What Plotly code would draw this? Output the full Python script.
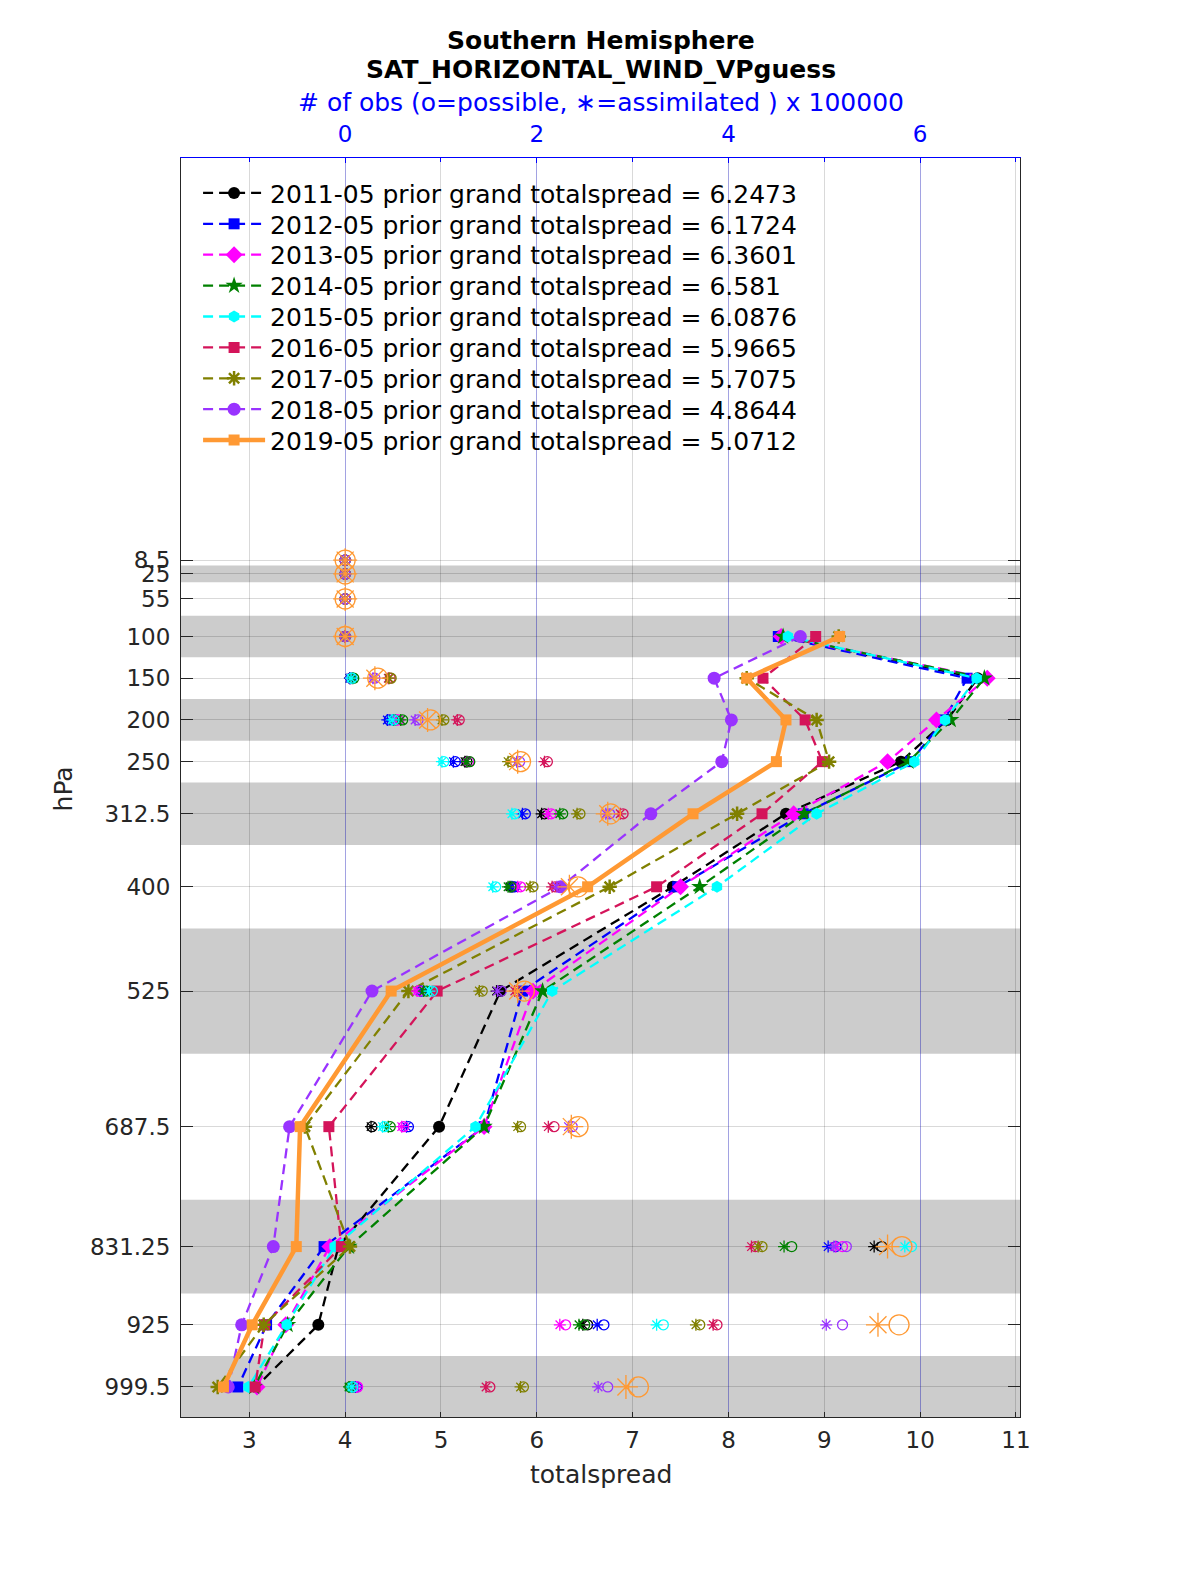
import plotly.graph_objects as go

# ---------------- data ----------------
levels = [8.5, 25, 55, 100, 150, 200, 250, 312.5, 400, 525, 687.5, 831.25, 925, 999.5]
level_labels = ["8.5", "25", "55", "100", "150", "200", "250", "312.5", "400", "525",
                "687.5", "831.25", "925", "999.5"]
N = None

names = ["2011-05 prior grand totalspread = 6.2473",
         "2012-05 prior grand totalspread = 6.1724",
         "2013-05 prior grand totalspread = 6.3601",
         "2014-05 prior grand totalspread = 6.581",
         "2015-05 prior grand totalspread = 6.0876",
         "2016-05 prior grand totalspread = 5.9665",
         "2017-05 prior grand totalspread = 5.7075",
         "2018-05 prior grand totalspread = 4.8644",
         "2019-05 prior grand totalspread = 5.0712"]

spread_2011 = [N, N, N, 8.53, 10.60, 10.28, 9.80, 8.60, 7.42, 5.62, 4.98, 3.93, 3.72, 3.07]
spread_2012 = [N, N, N, 8.52, 10.49, 10.25, 9.90, 8.78, 7.47, 5.85, 5.45, 3.78, 3.18, 2.88]
spread_2013 = [N, N, N, 8.55, 10.70, 10.17, 9.66, 8.68, 7.50, 5.96, 5.45, 3.84, 3.38, 3.08]
spread_2014 = [N, N, N, 8.57, 10.67, 10.32, 9.88, 8.79, 7.70, 6.06, 5.45, 4.04, 3.40, 3.05]
spread_2015 = [N, N, N, 8.62, 10.59, 10.26, 9.94, 8.92, 7.88, 6.16, 5.36, 3.89, 3.39, 2.99]
spread_2016 = [N, N, N, 8.91, 8.36, 8.80, 8.98, 8.35, 7.25, 4.96, 3.83, 3.96, 3.16, 3.06]
spread_2017 = [N, N, N, 9.15, 8.19, 8.92, 9.05, 8.09, 6.76, 4.66, 3.58, 4.05, 3.15, 2.67]
spread_2018 = [N, N, N, 8.75, 7.85, 8.03, 7.93, 7.19, 6.25, 4.28, 3.42, 3.25, 2.92, 2.78]
spread_2019 = [N, N, N, 9.16, 8.19, 8.60, 8.50, 7.63, 6.53, 4.48, 3.53, 3.49, 3.03, 2.73]

# number of observations (x 100000): possible (o) and assimilated (*)
poss_2011 = [0, 0, 0, 0, 0.06, 0.52, 1.27, 2.08, 1.75, 1.62, 0.28, 5.60, 2.53, 0.08]
asim_2011 = [0, 0, 0, 0, 0.05, 0.50, 1.25, 2.05, 1.72, 1.58, 0.27, 5.52, 2.48, 0.07]
poss_2012 = [0, 0, 0, 0, 0.06, 0.46, 1.15, 1.88, 1.77, 0.80, 0.66, 5.12, 2.70, 0.12]
asim_2012 = [0, 0, 0, 0, 0.05, 0.44, 1.13, 1.85, 1.74, 0.78, 0.64, 5.04, 2.63, 0.11]
poss_2013 = [0, 0, 0, 0, 0.07, 0.56, 1.29, 2.15, 1.83, 0.77, 0.61, 5.19, 2.30, 0.13]
asim_2013 = [0, 0, 0, 0, 0.06, 0.54, 1.27, 2.12, 1.80, 0.75, 0.59, 5.12, 2.24, 0.12]
poss_2014 = [0, 0, 0, 0, 0.09, 0.60, 1.30, 2.27, 1.73, 0.85, 0.47, 4.66, 2.50, 0.05]
asim_2014 = [0, 0, 0, 0, 0.08, 0.58, 1.27, 2.24, 1.70, 0.82, 0.45, 4.58, 2.44, 0.04]
poss_2015 = [0, 0, 0, 0, 0.07, 0.51, 1.03, 1.77, 1.57, 0.91, 0.41, 5.91, 3.32, 0.08]
asim_2015 = [0, 0, 0, 0, 0.06, 0.49, 1.01, 1.74, 1.54, 0.88, 0.39, 5.84, 3.25, 0.07]
poss_2016 = [0, 0, 0, 0, 0.47, 1.19, 2.11, 2.90, 2.19, 1.80, 2.18, 4.28, 3.88, 1.51]
asim_2016 = [0, 0, 0, 0, 0.45, 1.17, 2.08, 2.87, 2.16, 1.77, 2.12, 4.24, 3.84, 1.47]
poss_2017 = [0, 0, 0, 0, 0.48, 1.03, 1.73, 2.45, 1.96, 1.43, 1.83, 4.35, 3.70, 1.86]
asim_2017 = [0, 0, 0, 0, 0.46, 1.01, 1.70, 2.42, 1.93, 1.40, 1.80, 4.31, 3.66, 1.83]
poss_2018 = [0, 0, 0, 0, 0.31, 0.76, 1.82, 2.76, 2.25, 1.63, 2.37, 5.23, 5.19, 2.74]
asim_2018 = [0, 0, 0, 0, 0.29, 0.73, 1.79, 2.72, 2.21, 1.59, 2.33, 5.10, 5.02, 2.64]
poss_2019 = [0, 0, 0, 0, 0.34, 0.89, 1.83, 2.77, 2.43, 1.87, 2.43, 5.81, 5.78, 3.06]
asim_2019 = [0, 0, 0, 0, 0.31, 0.86, 1.80, 2.74, 2.34, 1.80, 2.36, 5.66, 5.56, 2.93]

# layer edges (hPa) of shaded bands
band_edges = [(15, 35), (75, 125), (175, 225), (275, 350), (450, 600), (775, 887.5), (962.5, 1035.5)]

spreads = [spread_2011, spread_2012, spread_2013, spread_2014, spread_2015,
           spread_2016, spread_2017, spread_2018, spread_2019]
possibles = [poss_2011, poss_2012, poss_2013, poss_2014, poss_2015,
             poss_2016, poss_2017, poss_2018, poss_2019]
assims = [asim_2011, asim_2012, asim_2013, asim_2014, asim_2015,
          asim_2016, asim_2017, asim_2018, asim_2019]

# ---------------- styles ----------------
colors = ["#000000", "#0000ff", "#ff00ff", "#008000", "#00ffff",
          "#d4145a", "#808000", "#9933ff", "#ff9933"]
symbols = ["circle", "square", "diamond", "star", "hexagon",
           "square", "asterisk-open", "circle", "square"]
msizes = [12, 11, 13, 13, 12, 11, 12, 13, 11]

FONT = "DejaVu Sans"
XR = [2.287, 11.042]
OFF = 4.0
S = 1.005  # compensation for page-to-picture scaling

W, H = round(1200 * S), round(1575 * S)
PL, PR, PT, PB = 180 * S, 1015 * S, 157 * S, 1410 * S
PW, PH = PR - PL, PB - PT


def py(pix):
    """reference-picture y pixel -> paper y"""
    return 1 - (pix * S - PT) / PH


def px(pix):
    """reference-picture x pixel -> paper x"""
    return (pix * S - PL) / PW


fig = go.Figure()

# obs markers on top axis
for i in range(9):
    big = (i == 8)
    fig.add_trace(go.Scatter(
        x=possibles[i], y=levels, xaxis="x2", yaxis="y", mode="markers",
        marker=dict(symbol="circle-open", size=20 if big else 10, color=colors[i],
                    line=dict(width=1.3, color=colors[i])),
        showlegend=False, hoverinfo="skip"))
    fig.add_trace(go.Scatter(
        x=assims[i], y=levels, xaxis="x2", yaxis="y", mode="markers",
        marker=dict(symbol="asterisk-open", size=20 if big else 10, color=colors[i],
                    line=dict(width=1.3, color=colors[i])),
        showlegend=False, hoverinfo="skip"))

legends = {}
# spread profiles
for i in range(9):
    big = (i == 8)
    sym = symbols[i]
    mline = dict(width=2.5, color=colors[i]) if sym == "asterisk-open" else dict(width=0)
    lname = "legend" if i == 0 else "legend%d" % (i + 1)
    fig.add_trace(go.Scatter(
        x=spreads[i], y=levels, xaxis="x", yaxis="y", mode="lines+markers",
        name=names[i], connectgaps=False, legend=lname,
        line=dict(color=colors[i], width=4.5 if big else 2.3,
                  dash="solid" if big else "10px,6px"),
        marker=dict(symbol=sym, size=msizes[i], color=colors[i], line=mline)))
    cy = 192 + 30.75 * i
    legends[lname] = dict(x=px(197), y=py(cy),
                          xanchor="left", yanchor="middle",
                          bgcolor="rgba(0,0,0,0)", borderwidth=0,
                          font=dict(family=FONT, size=25, color="black"),
                          itemwidth=62)

shapes = []
for (a, b) in band_edges:
    shapes.append(dict(type="rect", xref="paper", yref="y", x0=0, x1=1, y0=a, y1=b,
                       fillcolor="#cccccc", line=dict(width=0), layer="below"))

grid_gray = "rgba(0,0,0,0.15)"

fig.update_layout(
    width=W, height=H,
    margin=dict(l=PL, r=W - PR, t=PT, b=H - PB, autoexpand=False),
    paper_bgcolor="white", plot_bgcolor="white",
    font=dict(family=FONT, size=23, color="#262626"),
    shapes=shapes,
    showlegend=True,
    xaxis=dict(range=XR, tickmode="linear", tick0=3, dtick=1,
               ticks="inside", ticklen=5, tickcolor="#262626", ticklabelstandoff=2,
               showline=True, linecolor="#262626", linewidth=1,
               showgrid=True, gridcolor=grid_gray, gridwidth=1,
               zeroline=False, tickfont=dict(size=23, color="#262626")),
    xaxis2=dict(range=[XR[0] - OFF, XR[1] - OFF], overlaying="x", side="top",
                tickvals=[0, 2, 4, 6], ticks="inside", ticklen=5, tickcolor="#0000ff",
                ticklabelstandoff=6,
                minor=dict(tickmode="linear", tick0=0, dtick=1, ticks="inside",
                           ticklen=4, tickcolor="#0000ff", showgrid=False),
                showline=True, linecolor="#0000ff", linewidth=1,
                showgrid=True, gridcolor="rgba(0,0,255,0.25)", gridwidth=1,
                zeroline=False, tickfont=dict(size=23, color="#0000ff")),
    yaxis=dict(range=[1035.5, -473.5], tickvals=levels, ticktext=level_labels,
               ticks="inside", ticklen=12, tickcolor="#262626", ticklabelstandoff=5,
               showline=True, linecolor="#262626", linewidth=1, mirror="ticks",
               showgrid=True, gridcolor=grid_gray, gridwidth=1,
               zeroline=False, tickfont=dict(size=23, color="#262626")),
    annotations=[
        dict(text="<b>Southern Hemisphere</b>", xref="paper", yref="paper",
             x=px(597.5), y=py(40), xanchor="center", yanchor="middle",
             showarrow=False, font=dict(family=FONT, size=25, color="black")),
        dict(text="<b>SAT_HORIZONTAL_WIND_VPguess</b>", xref="paper", yref="paper",
             x=px(597.5), y=py(69), xanchor="center", yanchor="middle",
             showarrow=False, font=dict(family=FONT, size=25, color="black")),
        dict(text="# of obs (o=possible, \u2217=assimilated ) x 100000", xref="paper", yref="paper",
             x=px(597.5), y=py(102), xanchor="center", yanchor="middle",
             showarrow=False, font=dict(family=FONT, size=25, color="#0000ff")),
        dict(text="totalspread", xref="paper", yref="paper",
             x=px(597.5), y=py(1467), xanchor="center", yanchor="middle",
             showarrow=False, font=dict(family=FONT, size=25, color="#262626")),
        dict(text="hPa", xref="paper", yref="paper", textangle=-90,
             x=px(63), y=py(785), xanchor="center", yanchor="middle", showarrow=False,
             font=dict(family=FONT, size=25, color="#262626")),
    ],
)
fig.update_layout(**legends)

fig.write_html(
    "out.html",
    config={"displayModeBar": False},
    post_script=("document.documentElement.style.overflow='hidden';"
                 "document.body.style.overflow='hidden';"
                 "document.body.style.margin='0px';"),
)
